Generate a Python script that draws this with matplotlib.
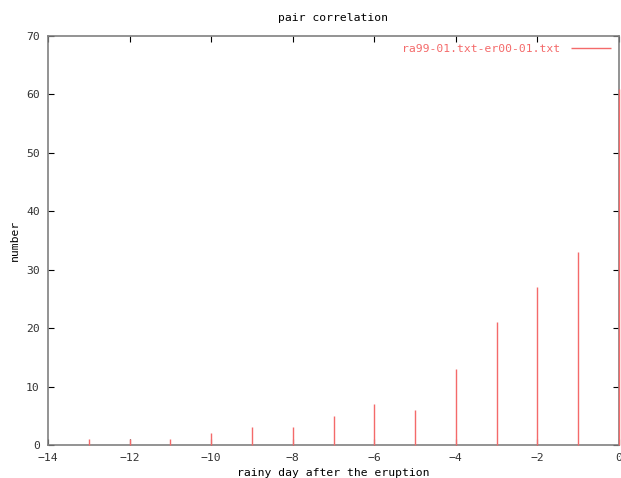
import numpy as np
import matplotlib
matplotlib.use('Agg')
import matplotlib.pyplot as plt

# days relative to eruption and pair counts
days = [-13, -12, -11, -10, -9, -8, -7, -6, -5, -4, -3, -2, -1, 0]
counts = [1, 1, 1, 2, 3, 3, 5, 7, 6, 13, 21, 27, 33, 61]
xticks = [-14, -12, -10, -8, -6, -4, -2, 0]
yticks = [0, 10, 20, 30, 40, 50, 60, 70]

plt.rcParams['font.family'] = 'DejaVu Sans Mono'
plt.rcParams['font.size'] = 8.2

fig = plt.figure(figsize=(6.21, 4.78), dpi=100)
ax = fig.add_axes([48 / 621, 33 / 478, 571 / 621, 409 / 478])

red = '#f46a6a'
ax.vlines(days, 0, counts, colors=red, linewidth=1.0,
          label='ra99-01.txt-er00-01.txt', clip_on=False, zorder=5)

ax.set_xlim(-14, 0)
ax.set_ylim(0, 70)
ax.set_xticks(xticks)
ax.set_yticks(yticks)
ax.tick_params(direction='in', length=4, width=0.8, top=True, right=True,
               colors='#000000', labelcolor='#333333', pad=6)
for s in ax.spines.values():
    s.set_color('#808080')
    s.set_linewidth(1.2)

ax.set_title('pair correlation', fontsize=8.2, pad=11)
ax.set_xlabel('rainy day after the eruption', labelpad=3)
ax.set_ylabel('number')
ax.yaxis.set_label_coords(-0.05, 0.5)

leg = ax.legend(loc='upper right', frameon=False, handlelength=3.5,
                handletextpad=1.0, markerfirst=False, borderaxespad=0.3)
for t in leg.get_texts():
    t.set_color(red)

fig.savefig('out.png', dpi=100)
